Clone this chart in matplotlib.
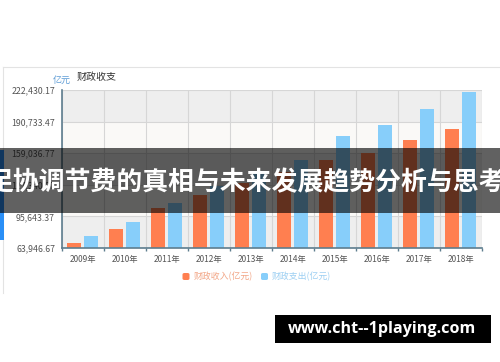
import matplotlib
matplotlib.use("Agg")
import matplotlib.pyplot as plt
import numpy as np
from matplotlib.patches import Rectangle, FancyBboxPatch
from matplotlib.ticker import FixedLocator, FuncFormatter

plt.rcParams['font.family'] = ['Noto Sans CJK SC', 'DejaVu Sans']

years = ['2009年', '2010年', '2011年', '2012年', '2013年',
         '2014年', '2015年', '2016年', '2017年', '2018年']
revenue = [68518, 83102, 103874, 117254, 129210, 140370, 152269, 159605, 172593, 183360]
spending = [76300, 89874, 109248, 125953, 140212, 151786, 175878, 187755, 203085, 220906]
y_ticks = [63946.67, 95643.37, 127340.07, 159036.77, 190733.47, 222430.17]

W, H = 500, 362
ORANGE = '#ff7f50'
BLUE = '#87cefa'
AXIS = '#5d7d8e'


def fx(x):
    return x / W


def fy(y):
    return 1 - y / H


fig = plt.figure(figsize=(5, 3.62), dpi=100)
fig.patch.set_facecolor('white')

# chart panel border
fig.add_artist(plt.Line2D([fx(3), fx(500)], [fy(67), fy(67)], color='#e3e3e3', lw=0.8))
fig.add_artist(plt.Line2D([fx(3), fx(3)], [fy(67), fy(293)], color='#e3e3e3', lw=0.8))

ax = fig.add_axes([fx(62), fy(248), fx(482) - fx(62), (248 - 90) / H])
ax.set_facecolor('#faf9f7')

x = np.arange(len(years))
ax.set_xlim(-0.5, len(years) - 0.5)
ax.set_ylim(y_ticks[0], y_ticks[-1])

# alternating horizontal bands, top band grey
for i in range(len(y_ticks) - 1):
    if (len(y_ticks) - 2 - i) % 2 == 0:
        ax.axhspan(y_ticks[i], y_ticks[i + 1], color='#eeeeee', zorder=0, lw=0)

bw = 0.335
ax.bar(x - 0.21, revenue, bw, color=ORANGE, zorder=3)
ax.bar(x + 0.2, spending, bw, color=BLUE, zorder=3)

ax.xaxis.set_major_locator(FixedLocator(np.arange(-0.5, len(years), 1.0)))
ax.xaxis.set_major_formatter(FuncFormatter(lambda v, _: ''))
ax.set_xticks(x, minor=True)
ax.set_xticklabels(years, minor=True, fontsize=6.0, color='#555555')
ax.tick_params(axis='x', which='major', length=2.5, width=1, color=AXIS, direction='out')
ax.tick_params(axis='x', which='minor', length=0, pad=5)

ax.set_yticks(y_ticks)
ax.set_yticklabels([f"{v:,.2f}" for v in y_ticks], fontsize=6.3, color='#555555')
ax.tick_params(axis='y', length=0, pad=5)

ax.grid(True, which='major', color='#d6d6d6', lw=0.8, zorder=1)
ax.set_axisbelow(True)

for s in ['top', 'right']:
    ax.spines[s].set_visible(False)
for s in ['left', 'bottom']:
    ax.spines[s].set_color(AXIS)
    ax.spines[s].set_linewidth(1.2)
    ax.spines[s].set_zorder(4)

# titles above the axis
fig.text(fx(71), fy(80), '亿元', color='#5b9bd5', fontsize=6.5, ha='right', va='center')
fig.text(fx(77), fy(77), '财政收支', color='#333333', fontsize=7.2, ha='left', va='center')

# legend
for sx, col, label, tcol in [(182.5, ORANGE, '财政收入(亿元)', '#f2a585'),
                              (261, BLUE, '财政支出(亿元)', '#9ccff2')]:
    fig.add_artist(FancyBboxPatch((fx(sx), fy(280)), fx(7), 7 / H,
                                  boxstyle='round,pad=0,rounding_size=0.004',
                                  transform=fig.transFigure, fc=col, ec='none'))
    fig.text(fx(sx + 11), fy(276.5), label, color=tcol, fontsize=6.4, ha='left', va='center')

# small blue strip on left edge
fig.add_artist(Rectangle((0, fy(240)), fx(3.5), 90 / H, transform=fig.transFigure,
                         fc='#2a8ff7', ec='none', zorder=5))

# dark banner with title
fig.add_artist(Rectangle((0, fy(213)), 1, 65 / H, transform=fig.transFigure,
                         fc='black', alpha=0.62, ec='none', zorder=10))
fig.text(fx(246), fy(183), '足协调节费的真相与未来发展趋势分析与思考', color='white',
         fontsize=18.6, fontweight='bold', ha='center', va='center', zorder=11)

# watermark box
fig.add_artist(Rectangle((fx(275), fy(343)), fx(216), 28 / H, transform=fig.transFigure,
                         fc='black', ec='none', zorder=10))
fig.text(fx(382), fy(329), 'www.cht--1playing.com', color='white', family='Open Sans',
         fontsize=11.6, fontweight='bold', ha='center', va='center', zorder=11)

fig.savefig('out.png', dpi=100)
